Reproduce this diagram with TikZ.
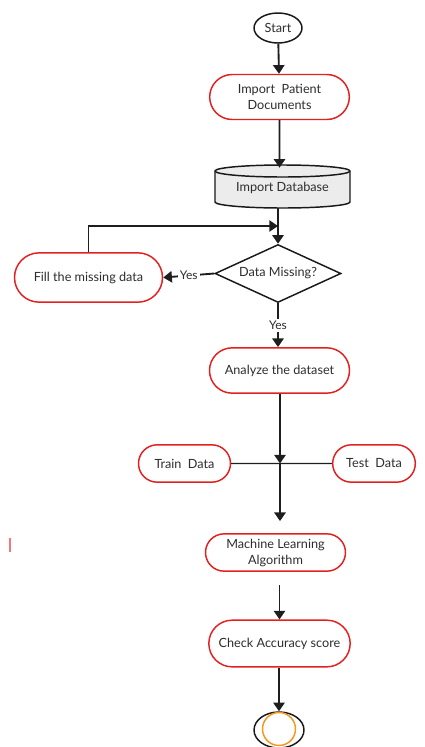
\documentclass[tikz,border=0pt]{standalone}
\usepackage{fontspec}
\setmainfont{Lato}
\usepackage{tikz}
\usetikzlibrary{arrows.meta,shapes.geometric,shapes.misc}

\tikzset{
  redbox/.style={rounded rectangle, draw={rgb, 255:red, 226; green, 32; blue, 32}, line width=1.1pt, align=center, inner sep=2pt,
    text={rgb, 255:red, 45; green, 45; blue, 45}, font=\fontsize{9.5}{12}\selectfont},
  blackshape/.style={draw={rgb, 255:red, 25; green, 25; blue, 25}, line width=1.1pt, align=center, inner sep=0pt,
    text={rgb, 255:red, 45; green, 45; blue, 45}, font=\fontsize{9.5}{12}\selectfont},
  conn/.style={draw={rgb, 255:red, 30; green, 30; blue, 30}, line width=1.4pt},
  thinconn/.style={draw={rgb, 255:red, 30; green, 30; blue, 30}, line width=1pt},
  arr/.style={conn, -{Triangle[width=8.5pt,length=6.5pt]}},
  yeslabel/.style={fill=white, inner sep=1.5pt, text={rgb, 255:red, 45; green, 45; blue, 45}, font=\fontsize{9}{11}\selectfont}
}

\begin{document}
\begin{tikzpicture}[x=0.75pt,y=0.75pt,yscale=-1,xscale=1]
\useasboundingbox (0,0) rectangle (425,747);

%Shape: Ellipse [start]
\node (start) at (278,28) [blackshape, ellipse, minimum width=36pt, minimum height=22.5pt] {Start};
%Shape: Rounded rectangle
\node (patient) at (279.5,97) [redbox, minimum width=108.75pt, minimum height=33.75pt] {Import\ \ Patient\\Documents};

%Shape: Can [database]
\draw [draw={rgb, 255:red, 25; green, 25; blue, 25}, fill={rgb, 255:red, 236; green, 236; blue, 236}, line width=1.1pt]
  (215,171) -- (215,202) arc [start angle=180, end angle=0, x radius=67.5, y radius=6] -- (350,171)
  arc [start angle=0, end angle=-180, x radius=67.5, y radius=6] -- cycle ;
\draw [draw={rgb, 255:red, 25; green, 25; blue, 25}, line width=1.1pt] (215,171) arc [start angle=180, end angle=0, x radius=67.5, y radius=6] ;
\node (db) at (282.5,188) [minimum width=101pt, minimum height=30pt, inner sep=0pt, text={rgb, 255:red, 45; green, 45; blue, 45}, font=\fontsize{9.5}{12}\selectfont] {Import Database};

%Shape: Diamond
\node (dm) at (278,273.5) [blackshape, diamond, aspect=2.2, minimum width=94.5pt, minimum height=43.5pt] {Data Missing?};
\node (fill) at (88.5,277.5) [redbox, minimum width=115pt, minimum height=37pt] {Fill the missing data};
\coordinate (join) at (278,226);

\node (analyze) at (279.5,370.5) [redbox, minimum width=109pt, minimum height=34pt] {Analyze the dataset};
\node (train) at (184.5,463.5) [redbox, minimum width=73pt, minimum height=28pt] {Train\ \ Data};
\node (test) at (374,463.5) [redbox, minimum width=66pt, minimum height=28pt] {Test\ \ Data};
\coordinate (split) at (280,463.5);

\node (ml) at (275.5,552.5) [redbox, minimum width=109pt, minimum height=28pt] {Machine Learning\\Algorithm};
\node (acc) at (279.5,643.5) [redbox, minimum width=110pt, minimum height=35pt] {Check Accuracy score};

%Shape: Ellipse [end]
\node (end) at (279,730) [blackshape, ellipse, minimum width=37.5pt, minimum height=27pt] {};
\draw [draw={rgb, 255:red, 245; green, 150; blue, 30}, line width=1.1pt] (end.center) ++(0,-1) circle [radius=16.5] ;

% Connectors
\draw [arr] (start) -- (patient);
\draw [arr] (patient) -- (patient |- db.north);
\draw [arr] (db.south -| dm.north) -- (dm.north);
\draw [thinconn, -{Triangle[width=8.5pt,length=6.5pt]}] (fill.north) |- (join);
\draw [arr] (dm.west) -- (fill.east) node [yeslabel, pos=0.5] {Yes};
\draw [arr] (dm.south) -- (dm.south |- analyze.north) node [yeslabel, pos=0.5] {Yes};
\draw [arr] (analyze.south -| split) -- (split);
\draw [thinconn] (train) -- (test);
\draw [arr, shorten >=9pt] (split) -- (split |- ml.north);
\draw [arr, shorten <=10pt] (ml.south -| acc.north) -- (acc.north);
\draw [arr] (acc.south -| end.north) -- (end.north);

% stray mark
\draw [draw={rgb, 255:red, 240; green, 60; blue, 60}, line width=1pt, opacity=0.7] (10,538) -- (10,552);

\end{tikzpicture}
\end{document}
